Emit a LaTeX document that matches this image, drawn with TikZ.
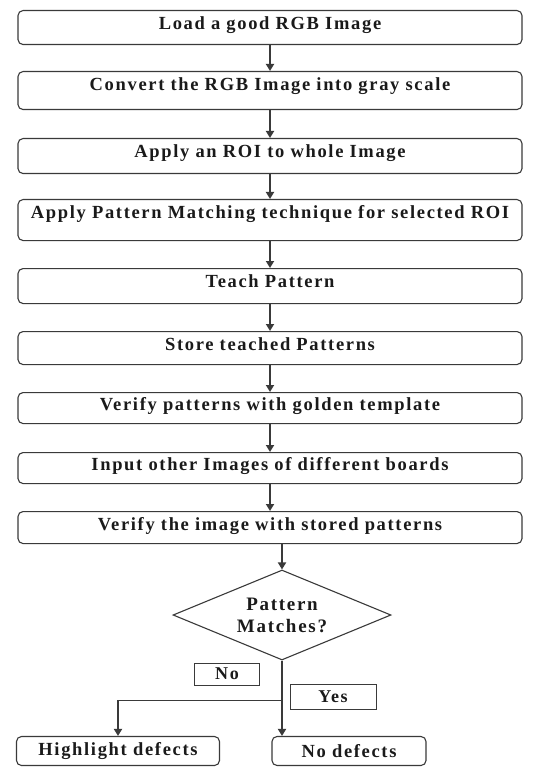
\documentclass[tikz,border=0pt]{standalone}
\usepackage{fontspec}
\setmainfont{Liberation Serif}
\newfontfamily\flowfont[LetterSpace=9]{Liberation Serif}
\usepackage{tikz}
\usetikzlibrary{shapes.geometric, arrows.meta, positioning, calc}
\usepackage{xcolor}
\definecolor{FlowLine}{HTML}{3A3A3A}
\definecolor{FlowText}{HTML}{1A1A1A}
\tikzset{
    % Node styles
    stepbox/.style={
        rectangle,
        rounded corners=5pt,
        draw=FlowLine,
        line width=1.1pt,
        fill=white,
        minimum width=504pt,
        text width=496pt,
        align=center,
        anchor=north,
        inner ysep=5pt,
        text height=14pt,
        text depth=10pt,
        text=FlowText,
        font=\flowfont\bfseries\fontsize{18.5}{21}\selectfont
    },
    endbox/.style={
        rectangle,
        rounded corners=5pt,
        draw=FlowLine,
        line width=1.1pt,
        fill=white,
        minimum height=29pt,
        inner ysep=2pt,
        text=FlowText,
        font=\flowfont\bfseries\fontsize{18.5}{21}\selectfont
    },
    decisionbox/.style={
        diamond,
        draw=FlowLine,
        line width=1.1pt,
        fill=white,
        minimum width=218pt,
        minimum height=90pt,
        aspect=2.4,
        inner sep=0pt,
        align=center,
        text=FlowText,
        font=\flowfont\bfseries\fontsize{19}{22}\selectfont
    },
    labelbox/.style={
        rectangle,
        draw=FlowLine,
        line width=1pt,
        fill=white,
        inner sep=1pt,
        text=FlowText,
        font=\flowfont\bfseries\fontsize{18}{20}\selectfont
    },
    % Arrow styles
    myarrow/.style={
        -{Triangle[width=8pt,length=7pt]},
        line width=1.8pt,
        FlowLine
    }
}

\begin{document}
\begin{tikzpicture}[x=1pt,y=-1pt]
    \useasboundingbox (0,0) rectangle (551,767);

    % Process steps
    \node[stepbox] (load) at (270,10) {Load a good RGB Image};
    \node[stepbox,text depth=14pt] (gray) at (270,71) {Convert the RGB Image into gray scale};
    \node[stepbox,text depth=11pt] (roi) at (270,138) {Apply an ROI to whole Image};
    \node[stepbox,text depth=17pt] (match) at (270,199) {Apply Pattern Matching technique for selected ROI};
    \node[stepbox,text depth=11pt] (teach) at (270,268) {Teach Pattern};
    \node[stepbox,text depth=9pt] (store) at (270,331) {Store teached Patterns};
    \node[stepbox,text depth=8pt,text height=13pt] (golden) at (270,392) {Verify patterns with golden template};
    \node[stepbox,text depth=8pt,text height=13pt] (input) at (270,452) {Input other Images of different boards};
    \node[stepbox,text depth=8pt,text height=14pt] (verify) at (270,511) {Verify the image with stored patterns};

    % Decision
    \node[decisionbox] (decide) at (282,615) {Pattern\\Matches?};

    % Results
    \node[endbox,minimum width=203pt] (highlight) at (118,751) {Highlight defects};
    \node[endbox,minimum width=154pt] (nodefect) at (349,751) {No defects};

    % Branch labels
    \node[labelbox,minimum width=65pt,minimum height=22pt] (nolabel) at (227,674) {No};
    \node[labelbox,minimum width=86pt,minimum height=25pt] (yeslabel) at (333,697) {Yes};

    % Arrows
    \draw[myarrow] (load) -- (gray);
    \draw[myarrow] (gray) -- (roi);
    \draw[myarrow] (roi) -- (match);
    \draw[myarrow] (match) -- (teach);
    \draw[myarrow] (teach) -- (store);
    \draw[myarrow] (store) -- (golden);
    \draw[myarrow] (golden) -- (input);
    \draw[myarrow] (input) -- (verify);
    \draw[myarrow] (verify.south -| decide.north) -- (decide.north);

    \coordinate (branch) at ($(decide.south)+(0,40)$);
    \draw[myarrow] (decide.south) -- (decide.south |- nodefect.north);
    \draw[myarrow] (branch) -| (highlight.north);
\end{tikzpicture}
\end{document}
